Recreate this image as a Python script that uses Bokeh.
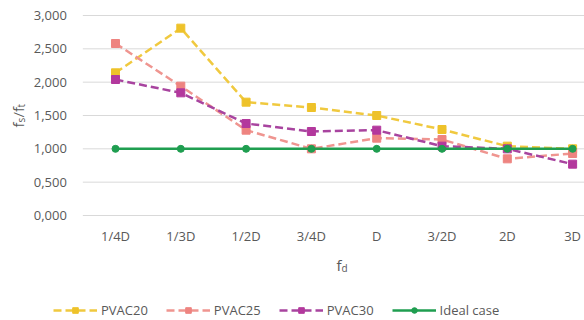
import math
from bokeh.plotting import figure
from bokeh.models import Range1d, FixedTicker, Legend, LegendItem, Label
from bokeh.embed import file_html
from bokeh.resources import INLINE

# f_d categories along the x axis
categories = ["1/4D", "1/3D", "1/2D", "3/4D", "D", "3/2D", "2D", "3D"]

# f_s/f_t ratios per series
pvac20 = [2.14, 2.81, 1.70, 1.62, 1.50, 1.29, 1.04, 1.00]
pvac25 = [2.58, 1.94, 1.28, 1.00, 1.16, 1.14, 0.85, 0.93]
pvac30 = [2.04, 1.84, 1.38, 1.26, 1.28, 1.04, 1.00, 0.77]
ideal = [1.00, 1.00, 1.00, 1.00, 1.00, 1.00, 1.00, 1.00]

y_ticks = [0.0, 0.5, 1.0, 1.5, 2.0, 2.5, 3.0]
y_tick_labels = ["0,000", "0,500", "1,000", "1,500", "2,000", "2,500", "3,000"]

FONT = "Open Sans"
TXT = "#595959"
GRID = "#d9d9d9"

xs = list(range(len(categories)))
X_LEFT, X_RIGHT = -0.5, 7.182   # extent of the plotting area in category index units

# The frame covers the whole canvas so that the legend and axis titles
# (drawn as annotations) are not clipped; axes are pinned with fixed_location.
p = figure(width=584, height=320, output_backend="svg", toolbar_location=None,
           x_range=Range1d(-1.761, X_RIGHT), y_range=Range1d(-1.575, 3.225),
           min_border=0)
p.outline_line_color = None
p.xgrid.grid_line_color = None
p.ygrid.grid_line_color = None

# horizontal gridlines limited to the plotting area
p.segment(x0=X_LEFT, x1=X_RIGHT, y0=y_ticks, y1=y_ticks,
          line_color=GRID, line_width=1)

p.yaxis.fixed_location = X_LEFT
p.yaxis.ticker = FixedTicker(ticks=y_ticks)
p.yaxis.major_label_overrides = {t: s for t, s in zip(y_ticks, y_tick_labels)}
p.yaxis.major_label_standoff = 16

p.xaxis.fixed_location = 0
p.xaxis.ticker = FixedTicker(ticks=xs)
p.xaxis.major_label_overrides = {i: c for i, c in enumerate(categories)}
p.xaxis.major_label_standoff = 11

for ax in (p.xaxis, p.yaxis):
    ax.axis_line_color = None
    ax.major_tick_line_color = None
    ax.minor_tick_line_color = None
    ax.major_tick_out = 0
    ax.major_label_text_font = FONT
    ax.major_label_text_font_size = "13px"
    ax.major_label_text_color = TXT

series = [
    ("PVAC20", pvac20, "#f0c93f", "#eec22a"),
    ("PVAC25", pvac25, "#ef9590", "#ee8480"),
    ("PVAC30", pvac30, "#a8449f", "#b3389d"),
]

items = []
for name, vals, lcolor, mcolor in series:
    ln = p.line(xs, vals, line_color=lcolor, line_width=2.5, line_dash="8 4")
    mk = p.scatter(xs, vals, marker="square", size=8, fill_color=mcolor,
                   line_color=mcolor)
    items.append(LegendItem(label=name, renderers=[ln, mk]))

GREEN = "#1f9e50"
ln = p.line(xs, ideal, line_color=GREEN, line_width=2.5)
mk = p.scatter(xs, ideal, marker="circle", size=7, fill_color=GREEN,
               line_color=GREEN)
items.append(LegendItem(label="Ideal case", renderers=[ln, mk]))

legend = Legend(items=items, orientation="horizontal", location=(53, 1),
                glyph_width=44, glyph_height=14, spacing=18, label_standoff=4,
                label_text_font=FONT, label_text_font_size="13px",
                label_text_color=TXT, border_line_color=None,
                background_fill_alpha=0, margin=0, padding=0)
p.add_layout(legend)

# axis titles with subscripts
lab = dict(x_units="screen", y_units="screen", text_font=FONT,
           text_color=TXT, text_baseline="alphabetic", text_align="left")
p.add_layout(Label(x=336, y=56, text="f", text_font_size="15px", **lab))
p.add_layout(Label(x=341, y=53, text="d", text_font_size="10px", **lab))

up = math.pi / 2
p.add_layout(Label(x=17, y=193, text="f", angle=up, text_font_size="15px", **lab))
p.add_layout(Label(x=20, y=198, text="s", angle=up, text_font_size="10px", **lab))
p.add_layout(Label(x=17, y=203, text="/f", angle=up, text_font_size="15px", **lab))
p.add_layout(Label(x=20, y=213, text="t", angle=up, text_font_size="10px", **lab))

open("out.html", "w").write(file_html(p, INLINE))
